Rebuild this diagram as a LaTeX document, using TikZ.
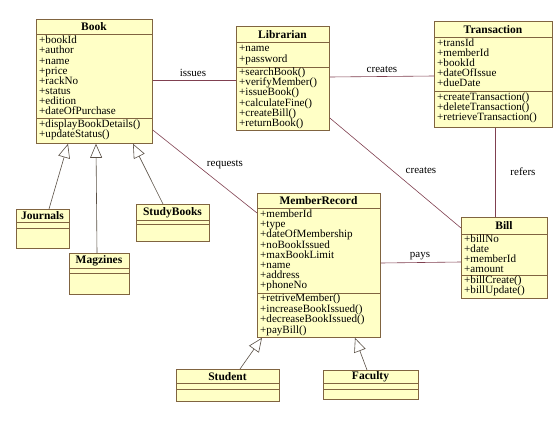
\documentclass[tikz,border=0pt]{standalone}
\usepackage{fontspec}
\setmainfont{Liberation Serif}
\usepackage{xcolor}
\usepackage{tikz}
\usetikzlibrary{arrows.meta,positioning,calc}

\definecolor{classfill}{RGB}{255,255,198}
\definecolor{classedge}{RGB}{128,100,64}
\definecolor{assoc}{RGB}{128,64,80}
\definecolor{genline}{RGB}{90,80,70}

\begin{document}
\begin{tikzpicture}[x=1pt, y=-1pt,
    classbox/.style={rectangle, draw=classedge, fill=classfill, line width=0.8pt, anchor=north west, inner sep=0pt},
    classline/.style={draw=classedge, line width=0.8pt},
    classtitle/.style={font=\fontsize{11.5}{12}\selectfont\bfseries, inner sep=0pt},
    member/.style={font=\fontsize{11.1}{10.1}\selectfont, anchor=base west, inner sep=0pt},
    assocline/.style={draw=assoc, line width=0.6pt},
    assoclabel/.style={font=\fontsize{11}{12}\selectfont, inner sep=0pt},
    genarrow/.style={draw=genline, line width=0.6pt, -{Triangle[open, fill=white, length=14pt, width=12pt, line width=0.6pt]}}
]
    \useasboundingbox[fill=white] (0,0) rectangle (560,423);

    % Class boxes: name/x/y/width/height/sep1/sep2/title
    \foreach \n/\x/\y/\w/\h/\a/\b/\t in {
        book/36/19/116/124/34/118/Book,
        journals/16/209/53/39/222/228/Journals,
        magzines/69/253/60/41/268/273/Magzines,
        studybooks/136/204/73/37/220/224/StudyBooks,
        librarian/236/26/93/104/42/67/Librarian,
        transaction/434/21/118/106/37/91/Transaction,
        member/257/193/123/144/208/293/MemberRecord,
        bill/461/217/86/81/234/275/Bill,
        student/176/369/103/32/383/389/Student,
        faculty/323/370/95/29/383/389/Faculty} {
        \node[classbox, minimum width=\w pt, minimum height=\h pt] (\n) at (\x,\y) {};
        \draw[classline] (\x,\a) -- ++(\w,0);
        \draw[classline] (\x,\b) -- ++(\w,0);
        \node[classtitle] (\n-title) at (\x+\w/2,{(\y+\a)/2+0.5}) {\t};
    }

    % Book
    \foreach \t [count=\i] in {+bookId,+author,+name,+price,+rackNo,+status,+edition,+dateOfPurchase}
        \node[member] (book-a\i) at (39,{34+9.8+(\i-1)*10.1}) {\t};
    \foreach \t [count=\i] in {+displayBookDetails(),+updateStatus()}
        \node[member] (book-o\i) at (39,{118+9.8+(\i-1)*10.1}) {\t};

    % Librarian
    \foreach \t [count=\i] in {+name,+password}
        \node[member] (librarian-a\i) at (239,{42+9.5+(\i-1)*10.5}) {\t};
    \foreach \t [count=\i] in {+searchBook(),+verifyMember(),+issueBook(),+calculateFine(),+createBill(),+returnBook()}
        \node[member] (librarian-o\i) at (239,{67+8.5+(\i-1)*10.2}) {\t};

    % Transaction
    \foreach \t [count=\i] in {+transId,+memberId,+bookId,+dateOfIssue,+dueDate}
        \node[member] (transaction-a\i) at (437,{37+9.3+(\i-1)*10.1}) {\t};
    \foreach \t [count=\i] in {+createTransaction(),+deleteTransaction(),+retrieveTransaction()}
        \node[member] (transaction-o\i) at (437,{91+9.5+(\i-1)*10.1}) {\t};

    % MemberRecord
    \foreach \t [count=\i] in {+memberId,+type,+dateOfMembership,+noBookIssued,+maxBookLimit,+name,+address,+phoneNo}
        \node[member] (member-a\i) at (260,{208+9.7+(\i-1)*10.1}) {\t};
    \foreach \t [count=\i] in {+retriveMember(),+increaseBookIssued(),+decreaseBookIssued(),+payBill()}
        \node[member] (member-o\i) at (260,{293+8.5+(\i-1)*10.5}) {\t};

    % Bill
    \foreach \t [count=\i] in {+billNo,+date,+memberId,+amount}
        \node[member] (bill-a\i) at (464,{234+8+(\i-1)*10.1}) {\t};
    \foreach \t [count=\i] in {+billCreate(),+billUpdate()}
        \node[member] (bill-o\i) at (464,{275+8.5+(\i-1)*10.1}) {\t};

    % Generalizations
    \draw[genarrow] (journals.north west) ++(33,0) -- (book.south west -| 68,0);
    \draw[genarrow] (magzines.north west) ++(28,0) -- (book.south west -| 96,0);
    \draw[genarrow] (studybooks.north west) ++(27,0) -- (book.south west -| 133,0);
    \draw[genarrow] (student.north west) ++(64,0) -- (member.south west -| 262,0);
    \draw[genarrow] (faculty.north west) ++(44,0) -- (member.south west -| 355,0);

    % Associations
    \draw[assocline] (book.east |- 0,80) -- (librarian.west |- 0,80);
    \node[assoclabel] (issues) at (193,73) {issues};
    \draw[assocline] (librarian.east |- 0,77) -- (transaction.west |- 0,76);
    \node[assoclabel] (creates1) at (382,69) {creates};
    \draw[assocline] (librarian.east |- 0,118) -- (bill.west |- 0,228);
    \node[assoclabel] (creates2) at (421,170) {creates};
    \draw[assocline] (transaction.south west -| 495,0) -- (bill.north west -| 495,0);
    \node[assoclabel] (refers) at (523,172) {refers};
    \draw[assocline] (book.east |- 0,130) -- (member.west |- 0,213);
    \node[assoclabel] (requests) at (225,165) {requests};
    \draw[assocline] (member.east |- 0,263) -- (bill.west |- 0,262);
    \node[assoclabel] (pays) at (420,256) {pays};
\end{tikzpicture}
\end{document}
